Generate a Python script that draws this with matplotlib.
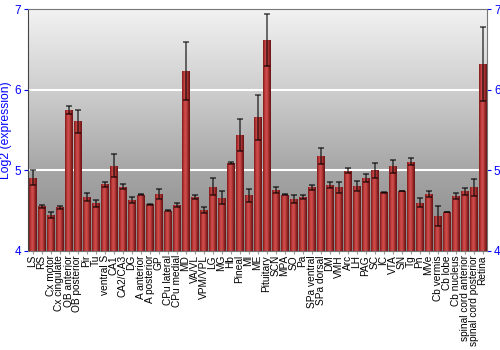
import numpy as np
import matplotlib
matplotlib.use("Agg")
import matplotlib.pyplot as plt
from matplotlib.colors import LinearSegmentedColormap

plt.rcParams["font.family"] = ["Liberation Sans", "DejaVu Sans"]

categories = ["LS", "RS", "Cx motor", "Cx cingulate", "OB anterior", "OB posterior", "Pir", "Tu",
              "ventral S", "CA1", "CA2/CA3", "DG", "A anterior", "A posterior", "GP", "CPu lateral",
              "CPu medial", "MD", "VA/VL", "VPM/VPL", "LG", "MG", "Hb", "Pineal", "MI", "ME",
              "Pituitary", "SCN", "MPA", "SO", "Pa", "SPa ventral", "SPa dorsal", "DM", "VMH", "Arc",
              "LH", "PAG", "SC", "IC", "VTA", "SN", "Tg", "Pn", "MVe", "Cb vermis", "Cb lobe",
              "Cb nucleus", "spinal cord anterior", "spinal cord posterior", "Retina"]
values = [4.91, 4.555, 4.445, 4.54, 5.75, 5.61, 4.67, 4.59,
          4.83, 5.06, 4.80, 4.63, 4.70, 4.58, 4.71, 4.50,
          4.57, 6.24, 4.67, 4.51, 4.80, 4.66, 5.09, 5.44, 4.69, 5.66,
          6.62, 4.76, 4.70, 4.64, 4.67, 4.79, 5.185, 4.82, 4.79, 4.995,
          4.81, 4.91, 5.00, 4.73, 5.05, 4.745, 5.11, 4.60, 4.71, 4.435, 4.485,
          4.68, 4.74, 4.79, 6.32]
errors = [0.09, 0.02, 0.04, 0.015, 0.05, 0.14, 0.05, 0.04,
          0.03, 0.14, 0.035, 0.035, 0.01, 0.005, 0.065, 0.005,
          0.03, 0.36, 0.027, 0.035, 0.11, 0.08, 0.01, 0.2, 0.08, 0.28,
          0.325, 0.04, 0.01, 0.05, 0.03, 0.03, 0.1, 0.04, 0.066, 0.03,
          0.065, 0.05, 0.095, 0.005, 0.08, 0.005, 0.045, 0.06, 0.035, 0.125, 0.005,
          0.04, 0.045, 0.105, 0.46]
yticks = [4, 5, 6, 7]

fig = plt.figure(figsize=(5, 3.5), dpi=100)
ax = fig.add_axes([0.056, 0.283, 0.918, 0.69])

# background gradient
bg = LinearSegmentedColormap.from_list("bg", ["#868686", "#a6a6a6", "#cecece", "#f2f2f2"])
grad = np.linspace(0, 1, 256).reshape(-1, 1)
ax.imshow(grad, aspect="auto", cmap=bg, origin="lower", extent=[0, 1, 0, 1],
          transform=ax.transAxes, zorder=0)

x = np.arange(len(categories))
for g in [5, 6]:
    ax.axhline(g, color="white", lw=1.5, zorder=1)

bars = ax.bar(x, np.array(values) - 4, bottom=4, width=0.88, color="#b83434",
              edgecolor="none", zorder=2)
barcm = LinearSegmentedColormap.from_list("bar", ["#7a1c1c", "#b83434", "#d05050", "#c04040", "#8a2222", "#6a1414"])
hgrad = np.linspace(0, 1, 64).reshape(1, -1)
for b in bars:
    im = ax.imshow(hgrad, aspect="auto", cmap=barcm,
                   extent=[b.get_x(), b.get_x() + b.get_width(), b.get_y(), b.get_y() + b.get_height()],
                   zorder=2.5)
    im.set_clip_path(b)

ax.errorbar(x, values, yerr=errors, fmt="none", ecolor="black", elinewidth=1.2,
            capsize=2.5, capthick=1.2, alpha=0.65, zorder=3)

ax.set_xlim(-0.5, len(categories) - 0.5)
ax.set_ylim(4, 7)
ax.set_xticks(x)
ax.set_xticklabels(categories, rotation=90, fontsize=7.3, color="black")
ax.tick_params(axis="x", length=2, color="#999999", pad=1)
ax.set_yticks(yticks)
ax.tick_params(axis="y", colors="blue", labelsize=8.5, length=3, labelright=True, right=True, pad=2)
ax.set_ylabel("Log2 (expression)", color="blue", fontsize=8.7, labelpad=2)
for s in ["top", "right"]:
    ax.spines[s].set_color("#777777")
ax.spines["left"].set_color("#444444")
ax.spines["bottom"].set_color("#777777")

fig.savefig("out.png", dpi=100)
